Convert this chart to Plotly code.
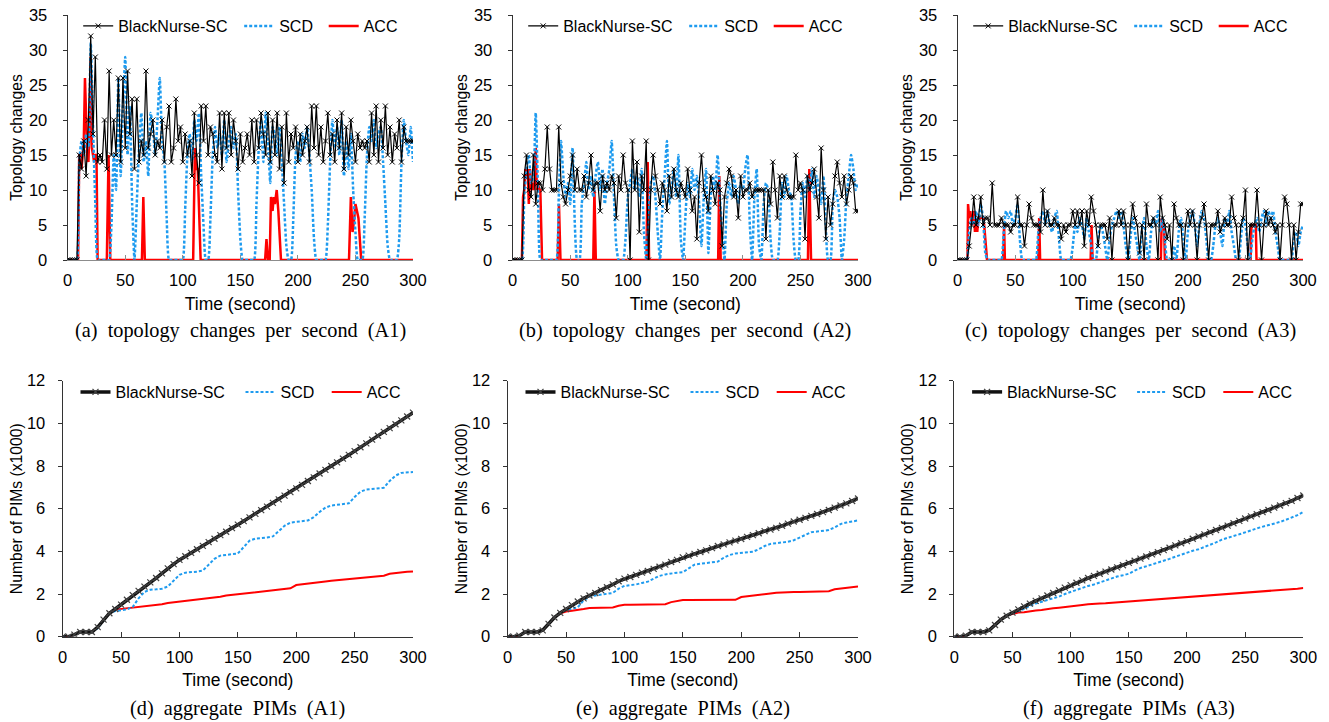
import plotly.graph_objects as go

W, H = 1329, 722

# ---------------- data: top row (topology changes per second), sampled every 2 s
BN_A1 = [0,0,0,0,0,15,13,17,12,20, 32,18,29,14,15,14,20,13,27,15, 20,15,26,14,26,16,27,18,23,13,
         23,14,17,15,27,16,18,20,15,17, 16,20,14,19,22,14,16,23,17,19, 14,18,15,17,12,21,15,11,22,17,
         22,15,19,18,15,14,21,13,21,16, 21,15,20,17,13,18,14,16,18,15, 20,14,20,16,21,18,15,21,14,20,
         15,21,13,19,11,21,14,18,16,19, 14,18,15,17,19,14,22,16,22,15, 19,14,17,21,15,18,14,20,16,21,
         13,19,15,20,17,14,18,16,17,16, 17,14,21,15,22,14,20,16,22,15, 19,14,18,16,20,14,19,17,17,17, 17]
SCD_A1 = [0,0,0,0,0,14,17,15,18,16, 31,19,8,0,0,0,0,0,0,5, 15,10,26,12,22,29,15,22,8,0,
          8,16,21,14,17,12,21,19,15,20, 26,17,14,6,0,0,0,0,0,0, 0,7,15,18,14,20,17,21,12,5,
          0,0,6,15,19,16,18,15,20,14, 17,19,16,18,10,3,0,0,0,0, 0,0,8,16,20,14,21,17,11,19,
          18,15,19,14,8,2,0,0,6,15, 17,14,18,16,19,15,10,3,0,0, 0,0,0,5,14,20,16,19,15,20,
          12,17,13,18,10,4,0,0,0,6, 15,19,17,20,16,18,19,14,8,2, 0,0,0,0,3,14,20,17,15,19, 14]
ACC_A1_T = [0,9,10,11,12,13,14,15,16,17,18,19,20,21,22,23,24,25,26, 34,35.5,37, 64.5,65.7,67,
            109,110.5,112,113,115.5, 171.5,172.7,174, 175.5,176.6,178,179,180,181.6,183,185.3,
            244.4,246,247.5,249,250,252.6,255, 300]
ACC_A1_V = [0,0,15,15,13,15,17,26,18,15,14,19,29,16,15,14,15,15,0, 0,15,0, 0,9,0,
            0,16,13,13,0, 0,3,0, 0,9,7,9,8,10,7,0,
            0,9,4,6,8,6,0, 0]

BN_A2 = [0,0,0,0,0,12,15,10,9,15, 8,11,11,10,13,19,13,10,10,10, 19,11,9,8,10,12,15,10,13,10,
         10,12,9,11,15,10,11,11,7,12, 10,11,10,12,11,6,12,10,15,11, 10,0,17,10,14,4,12,10,17,0,
         10,15,12,10,8,11,10,7,12,9, 13,10,9,11,10,9,13,10,7,9, 3,11,15,10,9,7,12,10,8,11,
         10,2,9,11,13,12,9,10,6,12, 9,10,10,11,9,10,10,10,10,10, 3,10,8,14,10,6,12,9,12,10,
         9,9,9,15,10,11,10,3,12,10, 11,13,9,6,16,10,3,9,5,8, 12,14,11,9,12,8,10,12,11,7, 7]
SCD_A2 = [0,0,0,0,0,9,13,15,11,12, 21,10,0,0,0,0,0,0,0,0, 9,17,12,9,11,8,16,5,0,0,
          8,11,14,10,12,9,12,14,10,13, 8,11,13,17,9,2,0,0,0,3, 9,11,13,10,12,9,13,4,0,6,
          11,12,9,4,0,7,12,17,8,10, 13,9,15,3,0,6,11,9,13,10, 12,8,2,9,13,1,9,12,10,15,
          9,4,0,8,11,9,12,10,8,11, 10,13,15,5,0,9,13,2,0,8, 11,10,3,0,0,0,4,11,9,12,
          10,9,3,0,0,7,11,9,12,10, 13,9,12,10,8,12,5,0,0,8, 10,9,6,0,3,9,12,15,13,10, 11]
ACC_A2_T = [0,8,9,10,11,12,13,14,15,16,17,18,19,20,21,22,23,24,25.5, 39,40.2,41.5, 70,71,72.2,
            116.2,117.3,118.5, 178.5,179.5,180.7, 256.5,257.7,259.2, 300]
ACC_A2_V = [0,0,9,10,13,12,13,8,13,10,11,10,11,16,10,11,10,10,0, 0,8,0, 0,10,0,
            0,14,0, 0,12,0, 0,13,0, 0]

BN_A3 = [0,0,0,0,0,2,5,9,5,6, 9,5,6,6,5,11,5,5,5,6, 5,5,5,4,5,5,9,5,5,2,
         5,8,6,5,5,5,4,10,5,7, 5,5,6,5,5,3,5,4,5,5, 7,5,7,5,7,2,7,5,9,7,
         5,2,5,5,5,3,6,0,5,5, 7,5,7,5,0,5,8,6,5,1, 5,0,8,5,5,6,5,0,9,6,
         5,3,5,0,8,6,5,5,0,5, 7,5,7,5,0,5,6,8,5,0, 5,5,5,7,4,5,6,5,5,9,
         6,5,0,5,6,10,0,5,5,5, 10,5,0,5,7,5,6,5,4,5, 0,5,9,8,5,0,5,0,4,8, 8]
SCD_A3 = [0,0,0,0,0,4,6,5,7,5, 8,6,1,0,0,0,0,0,0,0, 4,7,6,7,5,6,8,3,0,0,
          0,0,0,0,0,4,6,7,5,7, 5,4,6,7,3,0,0,0,0,0, 2,5,4,6,5,3,6,4,2,0,
          0,3,5,4,2,0,3,5,6,7, 6,7,5,2,0,3,6,4,2,0, 4,6,2,0,4,6,5,7,4,6,
          3,0,0,0,2,0,4,6,3,0, 4,6,7,5,2,5,7,6,3,0, 0,2,5,6,4,2,6,5,7,4,
          2,0,0,3,6,5,2,0,3,5, 6,4,6,7,5,7,6,7,4,2, 0,0,0,0,0,0,3,4,2,4, 5]
ACC_A3_T = [0,8.5,9,10,11,12,13,14,15,16,17,18,19,20,21,22,23,24,25.5, 39.5,40.3,41, 70,70.8,71.6,
            115.5,116.3,117.2, 176.5,177.3,178.5,179.3,180, 254.5,255.2,259,259.6, 300]
ACC_A3_V = [0,0,8,6,7,5,6,7,4,6,4,6,6,6,6,6,5,3,0, 0,5,0, 0,6,0,
            0,5,0, 0,6,5,5,0, 0,5,5,0, 0]

# ---------------- data: bottom row (aggregate PIMs, x1000), sampled every 5 s
PBN_A1 = [0,0,0.1,0.22,0.22,0.22,0.45,0.8,1.1,1.3,1.5,1.73,1.95,2.15,2.35,2.55,2.75,2.97,3.2,3.4,
          3.6,3.77,3.93,4.1,4.26,4.43,4.59,4.76,4.92,5.09,5.25,5.42,5.59,5.76,5.93,6.1,6.27,6.44,
          6.61,6.78,6.95,7.12,7.3,7.47,7.65,7.82,8.0,8.17,8.35,8.52,8.7,8.88,9.06,9.24,9.42,9.6,
          9.78,9.96,10.14,10.32,10.5]
PSCD_A1 = [0,0,0.1,0.22,0.22,0.22,0.4,0.75,1.1,1.2,1.25,1.28,1.4,1.8,2.1,2.2,2.22,2.25,2.35,2.65,
           2.9,3.0,3.02,3.05,3.1,3.4,3.65,3.8,3.85,3.87,3.9,4.2,4.5,4.6,4.62,4.65,4.7,4.95,5.2,
           5.35,5.38,5.4,5.45,5.6,5.85,6.05,6.15,6.18,6.2,6.25,6.55,6.8,6.9,6.92,6.95,6.98,7.3,
           7.55,7.68,7.7,7.72]
PACC_A1 = [0,0,0.1,0.22,0.22,0.22,0.45,0.8,1.1,1.27,1.3,1.33,1.36,1.4,1.43,1.46,1.49,1.52,1.58,
           1.61,1.64,1.67,1.7,1.73,1.76,1.79,1.82,1.87,1.93,1.96,1.99,2.02,2.05,2.08,2.11,2.14,
           2.17,2.2,2.23,2.27,2.42,2.46,2.5,2.53,2.56,2.59,2.62,2.65,2.68,2.7,2.72,2.75,2.78,2.8,
           2.83,2.86,2.95,2.99,3.02,3.04,3.06]

PBN_A2 = [0,0,0.05,0.22,0.22,0.22,0.3,0.6,0.9,1.12,1.3,1.48,1.65,1.8,1.93,2.05,2.18,2.32,2.45,
          2.6,2.72,2.8,2.9,3.0,3.08,3.18,3.28,3.38,3.5,3.6,3.72,3.8,3.88,3.97,4.05,4.15,4.25,4.33,
          4.42,4.5,4.58,4.68,4.76,4.85,4.95,5.02,5.1,5.2,5.3,5.4,5.48,5.57,5.66,5.75,5.84,5.94,
          6.05,6.15,6.25,6.36,6.48]
PSCD_A2 = [0,0,0.05,0.22,0.22,0.22,0.3,0.6,0.9,1.12,1.25,1.3,1.38,1.7,1.88,1.93,1.96,2.0,2.05,
           2.25,2.38,2.42,2.45,2.52,2.58,2.72,2.85,2.92,2.97,3.0,3.02,3.2,3.38,3.42,3.45,3.47,
           3.52,3.7,3.83,3.9,3.93,3.95,3.98,4.1,4.25,4.35,4.38,4.42,4.45,4.52,4.65,4.8,4.9,4.93,
           4.95,5.0,5.12,5.28,5.35,5.4,5.45]
PACC_A2 = [0,0,0.05,0.22,0.22,0.22,0.3,0.6,0.9,1.1,1.18,1.22,1.25,1.3,1.35,1.35,1.35,1.36,1.37,
           1.45,1.5,1.5,1.5,1.5,1.5,1.5,1.51,1.52,1.62,1.67,1.72,1.72,1.72,1.72,1.72,1.72,1.72,
           1.72,1.72,1.73,1.86,1.9,1.94,1.97,2.0,2.03,2.06,2.08,2.09,2.1,2.1,2.1,2.11,2.11,2.12,
           2.13,2.22,2.26,2.3,2.33,2.35]

PBN_A3 = [0,0,0.05,0.22,0.22,0.22,0.3,0.55,0.8,0.98,1.13,1.28,1.42,1.55,1.68,1.8,1.93,2.05,2.17,
          2.3,2.42,2.53,2.64,2.75,2.85,2.95,3.05,3.15,3.25,3.35,3.46,3.56,3.66,3.76,3.86,3.96,
          4.06,4.17,4.28,4.38,4.48,4.59,4.7,4.8,4.9,5.0,5.1,5.21,5.32,5.43,5.54,5.64,5.74,5.84,
          5.94,6.05,6.15,6.26,6.37,6.5,6.62]
PSCD_A3 = [0,0,0.05,0.22,0.22,0.22,0.3,0.55,0.8,0.98,1.1,1.2,1.3,1.45,1.55,1.65,1.72,1.8,1.88,
           2.0,2.1,2.2,2.3,2.38,2.45,2.55,2.65,2.75,2.82,2.88,2.95,3.1,3.22,3.3,3.38,3.48,3.57,
           3.65,3.75,3.85,3.95,4.03,4.1,4.2,4.3,4.42,4.55,4.65,4.72,4.8,4.88,4.98,5.08,5.15,5.22,
           5.3,5.38,5.48,5.58,5.7,5.85]
PACC_A3 = [0,0,0.05,0.22,0.22,0.22,0.3,0.55,0.8,1.0,1.08,1.13,1.15,1.2,1.23,1.25,1.3,1.33,1.36,
           1.4,1.43,1.46,1.49,1.52,1.55,1.56,1.57,1.59,1.62,1.64,1.66,1.67,1.69,1.71,1.73,1.74,
           1.76,1.79,1.82,1.84,1.86,1.88,1.9,1.93,1.95,1.96,1.98,2.0,2.01,2.02,2.04,2.06,2.08,
           2.1,2.12,2.15,2.18,2.21,2.23,2.25,2.28]

SERIES_NAMES = ["BlackNurse-SC", "SCD", "ACC"]
CAPTIONS = ["(a) topology changes per second (A1)", "(b) topology changes per second (A2)",
            "(c) topology changes per second (A3)", "(d) aggregate PIMs (A1)",
            "(e) aggregate PIMs (A2)", "(f) aggregate PIMs (A3)"]
X_TICKS = [0, 50, 100, 150, 200, 250, 300]

BLACK = "#000000"
BLUE = "#1E9BEF"
RED = "#FF0000"
SANS = "Liberation Sans, Arial, sans-serif"
SERIF = "Liberation Serif, Times New Roman, serif"

fig = go.Figure()

top = [(BN_A1, SCD_A1, ACC_A1_T, ACC_A1_V), (BN_A2, SCD_A2, ACC_A2_T, ACC_A2_V),
       (BN_A3, SCD_A3, ACC_A3_T, ACC_A3_V)]
bottom = [(PBN_A1, PSCD_A1, PACC_A1), (PBN_A2, PSCD_A2, PACC_A2), (PBN_A3, PSCD_A3, PACC_A3)]

x_px = [(67.7, 413), (512.7, 858), (957.7, 1303), (62.7, 413), (507.7, 858), (954.3, 1303.3)]
y_px = [(15, 260)] * 3 + [(380.7, 636.7)] * 3
# legend text start offsets (px from each panel's left axis) for the three entries
LEG_TEXT_TOP = [50, 211, 295.5]
LEG_TEXT_BOTTOM = [52.3, 217.3, 303.5]


def ax(i):
    return ("x" if i == 1 else f"x{i}"), ("y" if i == 1 else f"y{i}")


def lg(i, s):
    n = (i - 1) * 3 + s + 1
    return "legend" if n == 1 else f"legend{n}"


for k, (bn, scd, at, av) in enumerate(top):
    i = k + 1
    xa, ya = ax(i)
    t2 = [2 * j for j in range(len(bn))]
    t2b = [2 * j for j in range(len(scd))]
    fig.add_trace(go.Scatter(x=at, y=av, mode="lines", name=SERIES_NAMES[2], xaxis=xa, yaxis=ya,
                             line=dict(color=RED, width=2.5), legend=lg(i, 2), showlegend=True))
    fig.add_trace(go.Scatter(x=t2b, y=scd, mode="lines", name=SERIES_NAMES[1], xaxis=xa, yaxis=ya,
                             line=dict(color=BLUE, width=2.5, dash="3px,2px", shape="spline", smoothing=0.5),
                             legend=lg(i, 1), showlegend=True))
    fig.add_trace(go.Scatter(x=t2, y=bn, mode="lines+markers", name=SERIES_NAMES[0], xaxis=xa, yaxis=ya,
                             line=dict(color=BLACK, width=1.2),
                             marker=dict(symbol="x-thin", size=5, color=BLACK, line=dict(width=1, color=BLACK)),
                             legend=lg(i, 0), showlegend=True))

for k, (bn, scd, acc) in enumerate(bottom):
    i = k + 4
    xa, ya = ax(i)
    t5 = [5 * j for j in range(len(bn))]
    fig.add_trace(go.Scatter(x=t5, y=acc, mode="lines", name=SERIES_NAMES[2], xaxis=xa, yaxis=ya,
                             line=dict(color=RED, width=2), legend=lg(i, 2), showlegend=True))
    fig.add_trace(go.Scatter(x=t5, y=scd, mode="lines", name=SERIES_NAMES[1], xaxis=xa, yaxis=ya,
                             line=dict(color=BLUE, width=2, dash="3px,2px"), legend=lg(i, 1), showlegend=True))
    fig.add_trace(go.Scatter(x=t5, y=bn, mode="lines+markers", name=SERIES_NAMES[0], xaxis=xa, yaxis=ya,
                             line=dict(color="#111111", width=3.5),
                             marker=dict(symbol="x-thin", size=6, color=BLACK, line=dict(width=1.2, color="#444444")),
                             legend=lg(i, 0), showlegend=True))

layout = dict(width=W, height=H, margin=dict(l=0, r=0, t=0, b=0, pad=0, autoexpand=False),
              paper_bgcolor="white", plot_bgcolor="white", showlegend=True,
              font=dict(family=SANS, size=16, color="black"))

for i in range(1, 7):
    x0, x1 = x_px[i - 1]
    y0, y1 = y_px[i - 1]
    xk = "xaxis" if i == 1 else f"xaxis{i}"
    yk = "yaxis" if i == 1 else f"yaxis{i}"
    topr = i <= 3
    layout[xk] = dict(domain=[x0 / W, x1 / W], anchor=ax(i)[1], range=[0, 300], tickvals=X_TICKS,
                      automargin=False, showgrid=False, zeroline=False, showline=True,
                      linecolor="#8c8c8c" if topr else "#333333", linewidth=1.3,
                      ticks="inside", ticklen=5, tickcolor="#8c8c8c" if topr else "#333333",
                      ticklabelstandoff=5, tickfont=dict(size=16.5),
                      title=dict(text="Time (second)", standoff=9, font=dict(size=17.5)))
    layout[yk] = dict(domain=[(H - y1) / H, (H - y0) / H], anchor=ax(i)[0],
                      range=[0, 35] if topr else [0, 12], dtick=5 if topr else 2,
                      automargin=False, showgrid=False, zeroline=False, showline=True,
                      linecolor="#333333", linewidth=1.3,
                      ticks="outside", ticklen=4, tickcolor="#333333",
                      ticklabelstandoff=12 if topr else 9,
                      tickfont=dict(size=16.5),
                      title=dict(text="Topology changes" if topr else "Number of PIMs (x1000)",
                                 standoff=2 if topr else 0, font=dict(size=15.7)))
    legend_y = (H - 26) / H if topr else (H - 392) / H
    offs = LEG_TEXT_TOP if topr else LEG_TEXT_BOTTOM
    for s in range(3):
        layout[lg(i, s)] = dict(orientation="h", x=(x0 + offs[s] - 39.5) / W, xanchor="left",
                                y=legend_y, yanchor="middle", bgcolor="rgba(0,0,0,0)",
                                font=dict(size=16, family=SANS), visible=True)

annotations = []
for i in range(1, 7):
    x0, x1 = x_px[i - 1]
    cy = 331 if i <= 3 else 708
    annotations.append(dict(text=CAPTIONS[i - 1].replace(" ", " \u00a0"), xref="paper", yref="paper",
                            x=(x0 + x1) / 2 / W, y=(H - cy) / H, xanchor="center", yanchor="middle",
                            showarrow=False, font=dict(family=SERIF, size=20.3, color="black")))
layout["annotations"] = annotations

fig.update_layout(**layout)
fig.write_html("out.html", config={"displayModeBar": False},
               post_script="document.body.style.margin='0';document.body.style.overflow='hidden';")
